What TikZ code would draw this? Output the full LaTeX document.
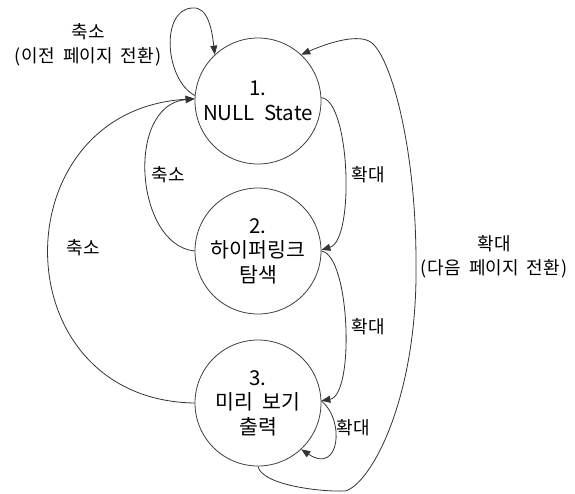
\documentclass[tikz,border=0pt]{standalone}
\usepackage{fontspec}
\setmainfont[WordSpace=2]{Noto Sans CJK KR}
\usetikzlibrary{arrows.meta}
\newcommand{\prn}[1]{(\kern1.5pt#1\kern1.5pt)}
\begin{document}
\begin{tikzpicture}[x=1pt,y=-1pt,
  state/.style={circle,draw=black!75,line width=0.8pt,minimum size=126pt,inner sep=0pt,align=center,font=\fontsize{20.5}{24.5}\selectfont},
  lbl/.style={align=center,inner sep=1pt,font=\fontsize{18}{24}\selectfont},
  conn/.style={draw=black!80,line width=0.8pt},
  arr/.style={conn,-{Triangle[length=9pt,width=7pt]}}]
\fill[white] (0,0) rectangle (575,493);
\useasboundingbox (0,0) rectangle (575,493);
\node[state] (s1) at (258,101) {1.\\NULL State};
\node[state] (s2) at (258,251) {2.\\하이퍼링크\\탐색};
\node[state] (s3) at (258,403) {3.\\미리 보기\\출력};
% self loop on 1
\draw[arr] (s1.175) .. controls (165,80) and (160,10) .. (192,8) .. controls (208,6) and (212,30) .. (s1.133);
% 3 -> 1 big left
\draw[arr] (s3.west) .. controls (0,400) and (0,110) .. (s1.178);
% 2 -> 1
\draw[arr] (s2.west) .. controls (135,245) and (125,105) .. (s1.178);
% 1 -> 2
\draw[arr] (s1.3) .. controls (350,100) and (355,240) .. (s2.1);
% 2 -> 3
\draw[arr] (s2.0) .. controls (350,255) and (355,395) .. (s3.2);
% 3 self loop
\draw[arr] (s3.2) .. controls (345,420) and (340,475) .. (s3.-47);
% 3 -> 1 big right
\draw[arr] (s3.south) .. controls (262,485) and (320,492) .. (345,491)
  .. controls (370,485) and (418,400) .. (416,262)
  .. controls (416,150) and (392,60) .. (372,43)
  .. controls (360,33) and (330,42) .. (s1.47);
% labels
\node[lbl] (l1) at (88,45) {축소\\\prn{이전 페이지 전환}};
\node[lbl] (l2) at (83,248) {축소};
\node[lbl] (l3) at (168,175) {축소};
\node[lbl] (l4) at (368,175) {확대};
\node[lbl] (l5) at (368,327) {확대};
\node[lbl] (l6) at (353,428) {확대};
\node[lbl] (l7) at (494,257) {확대\\\prn{다음 페이지 전환}};
\end{tikzpicture}
\end{document}
